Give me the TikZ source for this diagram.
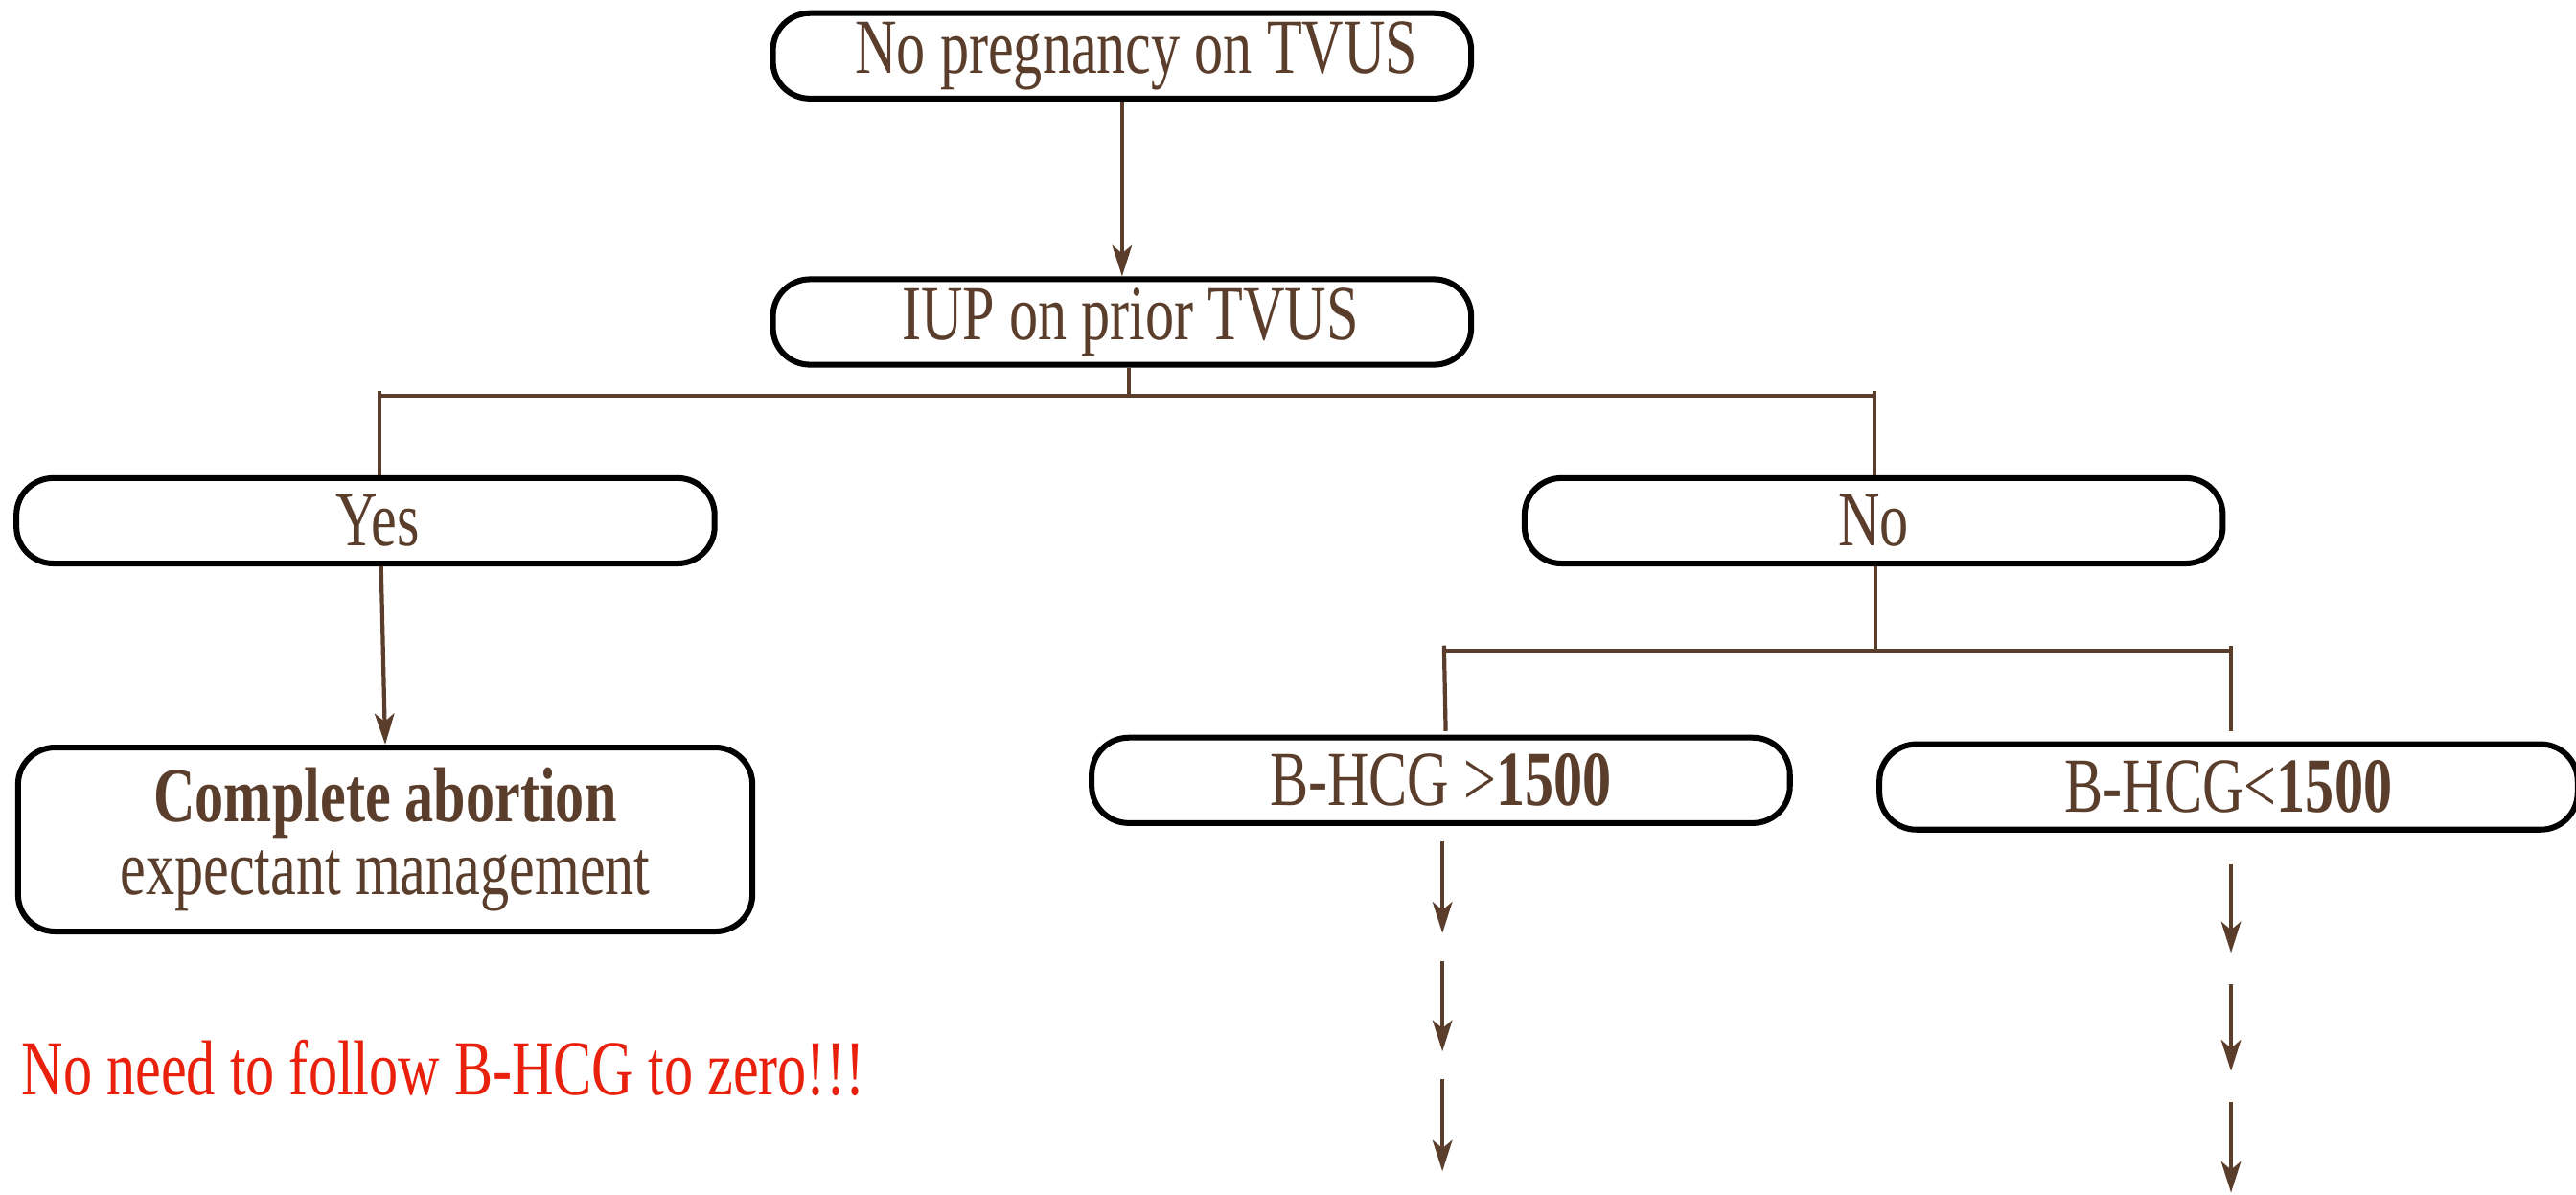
\documentclass[tikz,border=0pt]{standalone}
\usepackage{fontspec}
\setmainfont[FakeStretch=0.74]{Liberation Serif}
\usetikzlibrary{arrows.meta,positioning}
\definecolor{brownline}{HTML}{5A3E2B}
\definecolor{alertred}{HTML}{E8200C}
\tikzset{
    stepbox/.style={
        draw=black,
        line width=2pt,
        rounded corners=0.45cm,
        minimum width=8.5cm,
        minimum height=1.04cm,
        inner sep=0pt,
        align=center,
        text=brownline,
        font=\fontsize{27}{25}\selectfont
    },
    link/.style={draw=brownline, line width=1.4pt},
    flow/.style={link, -{Stealth[length=0.38cm,width=0.24cm,inset=0.1cm]}}
}

\begin{document}
\begin{tikzpicture}
  \useasboundingbox (0,0) rectangle (31.36,-14.54);

  \node[stepbox] at (13.66,-0.68) (none) {\hspace*{0.35cm}No pregnancy on TVUS};
  \node[stepbox] at (13.66,-3.92) (iup) {\hspace*{0.2cm}IUP on prior TVUS};
  \node[stepbox] at (4.45,-6.34) (yes) {\hspace*{0.3cm}Yes};
  \node[stepbox] at (22.81,-6.34) (no) {No};
  \node[stepbox, minimum width=8.94cm, minimum height=2.24cm] at (4.69,-10.22) (cab)
    {\textbf{Complete abortion}\\expectant management};
  \node[stepbox] at (17.54,-9.50) (high) {B-HCG >\textbf{1500}};
  \node[stepbox] at (27.13,-9.58) (low) {B-HCG<\textbf{1500}};

  \node[anchor=west, inner sep=0pt, text=alertred, font=\fontsize{27}{25}\selectfont]
    at (0.26,-13.0) (note) {No need to follow B-HCG to zero!!!};

  % first split
  \coordinate (iupj) at (13.74,-4.82);
  \coordinate (yesj) at (4.62,-4.82);
  \coordinate (noj) at (22.82,-4.82);
  \draw[flow] (none) -- (iup);
  \draw[link] (iup.south -| iupj) -- (iupj);
  \draw[link] (yesj) -- (noj);
  \draw[link] ([yshift=0.06cm]yesj) -- (yesj |- yes.north);
  \draw[link] ([yshift=0.06cm]noj) -- (noj |- no.north);
  \draw[flow] ([xshift=0.19cm]yes.south) -- (cab.north);

  % second split
  \coordinate (noj2) at (22.83,-7.92);
  \coordinate (highj) at (17.58,-7.92);
  \coordinate (lowj) at (27.16,-7.92);
  \draw[link] (no.south -| noj2) -- (noj2);
  \draw[link] (highj) -- (lowj);
  \draw[link] ([yshift=0.06cm]highj) -- (17.6,-8.9) coordinate (highe);
  \draw[link] ([yshift=0.06cm]lowj) -- (27.16,-8.9) coordinate (lowe);

  % next steps
  \foreach \i/\ya/\yb in {1/10.24/11.36, 2/11.70/12.80, 3/13.14/14.26} {
    \coordinate (hs\i) at (17.56,-\ya);
    \coordinate (ht\i) at (17.56,-\yb);
    \draw[flow] (hs\i) -- (ht\i);
  }
  \foreach \i/\ya/\yb in {1/10.52/11.60, 2/11.98/13.04, 3/13.42/14.52} {
    \coordinate (ls\i) at (27.16,-\ya);
    \coordinate (lt\i) at (27.16,-\yb);
    \draw[flow] (ls\i) -- (lt\i);
  }

\end{tikzpicture}
\end{document}
